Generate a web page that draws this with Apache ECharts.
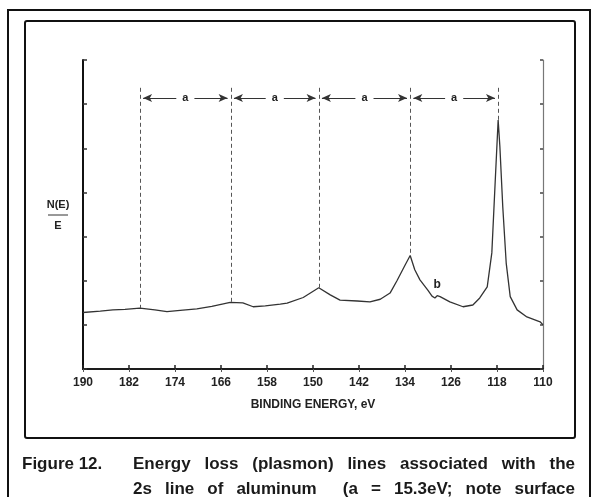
<!DOCTYPE html>
<html>
<head>
<meta charset="utf-8">
<script src="https://cdn.jsdelivr.net/npm/echarts@6/dist/echarts.min.js"></script>
<style>html,body{margin:0;padding:0;background:#fff}#c{width:600px;height:497px}</style>
</head>
<body>
<div id="c"></div>
<script>
// ---- data ----
const bindingEnergy = [190, 187.0, 184.8, 182.7, 180.1, 177.5, 175.4, 173.1, 170.2, 167.6, 164.4, 162.2, 160.4, 158.3, 155.7, 154.5, 151.7, 149.0, 147.0, 145.3, 142.3, 140.1, 138.3, 136.6, 135.4, 134.0, 133.1, 132.3, 131.4, 130.0, 129.3, 128.8, 128.4, 127.9, 126.2, 123.9, 122.2, 121.0, 119.7, 118.9, 118.3, 117.8, 117.5, 117.0, 116.4, 115.7, 114.5, 112.8, 110.5, 110];
const intensity = [1.28, 1.31, 1.34, 1.35, 1.38, 1.34, 1.30, 1.33, 1.36, 1.42, 1.51, 1.50, 1.41, 1.43, 1.47, 1.49, 1.62, 1.84, 1.68, 1.56, 1.54, 1.52, 1.58, 1.72, 2.00, 2.35, 2.57, 2.25, 2.02, 1.78, 1.65, 1.61, 1.66, 1.64, 1.52, 1.41, 1.45, 1.61, 1.86, 2.63, 4.28, 5.64, 5.04, 3.68, 2.40, 1.64, 1.34, 1.18, 1.07, 1.00];
const plasmonLines = [180.1, 164.3, 149.0, 133.1, 117.8];
const plasmonLineEnds = [1.38, 1.51, 1.84, 2.57, 5.64];
const xTicks = [190, 182, 174, 166, 158, 150, 142, 134, 126, 118, 110];
const yTicks = [0, 1, 2, 3, 4, 5, 6, 7];
const lineTop = 6.37;
const arrowLevel = 6.14;
const spacingLabel = 'a';
const surfaceLabel = 'b';
const surfacePoint = [128.4, 1.9];
const caption1 = 'Energy loss (plasmon) lines associated with the';
const caption2 = '2s line of aluminum  (a = 15.3eV; note surface';
const figLabel = 'Figure 12.';

// ---- build ----
const seriesData = bindingEnergy.map((e, i) => [e, intensity[i]]);
const markLines = [];
plasmonLines.forEach((e, i) => {
  markLines.push([{coord: [e, lineTop], symbol: 'none', lineStyle: {type: [4, 3], color: '#555', width: 1}, label: {show: false}},
                  {coord: [e, plasmonLineEnds[i]], symbol: 'none'}]);
});
const markPoints = [{coord: surfacePoint, label: {show: true, formatter: surfaceLabel, fontWeight: 'bold', fontSize: 12, color: '#222', fontFamily: 'Liberation Sans'}}];
for (let i = 0; i < plasmonLines.length - 1; i++) {
  markLines.push([{coord: [plasmonLines[i] - 0.55, arrowLevel], symbol: 'arrow', symbolSize: [6, 9],
                   lineStyle: {type: 'solid', color: '#333', width: 1}, label: {show: false}},
                  {coord: [plasmonLines[i + 1] + 0.55, arrowLevel], symbol: 'arrow', symbolSize: [6, 9]}]);
  markPoints.push({coord: [(plasmonLines[i] + plasmonLines[i + 1]) / 2, arrowLevel],
                   label: {show: true, position: 'inside', formatter: spacingLabel, fontWeight: 'bold', fontSize: 11,
                           color: '#222', backgroundColor: '#fff', padding: [1, 6], fontFamily: 'Liberation Sans'}});
}

const fontAx = {fontFamily: 'Liberation Sans', fontWeight: 'bold', fontSize: 12, color: '#222'};

function justified(words, x0, x1, y, font) {
  const ctx = document.createElement('canvas').getContext('2d');
  ctx.font = font;
  const w = words.map(t => ctx.measureText(t).width);
  const total = w.reduce((a, b) => a + b, 0);
  const gap = (x1 - x0 - total) / (words.length - 1);
  let x = x0;
  const out = [];
  words.forEach((t, i) => {
    if (t) out.push({type: 'text', x: x, y: y, style: {text: t, font: font, fill: '#1a1a1a', verticalAlign: 'middle'}});
    x += w[i] + gap;
  });
  return out;
}
const capFont = 'bold 17px "Liberation Sans"';
const graphics = [
  {type: 'rect', shape: {x: 8, y: 10, width: 582, height: 520}, style: {fill: 'none', stroke: '#111', lineWidth: 2}},
  {type: 'rect', shape: {x: 25, y: 21, width: 550, height: 417, r: 2}, style: {fill: 'none', stroke: '#111', lineWidth: 2}},
  {type: 'text', x: 58, y: 205, style: {text: 'N(E)', font: 'bold 11px "Liberation Sans"', fill: '#222', align: 'center', verticalAlign: 'middle'}},
  {type: 'line', shape: {x1: 48, y1: 215, x2: 68, y2: 215}, style: {stroke: '#333', lineWidth: 1}},
  {type: 'text', x: 58, y: 226, style: {text: 'E', font: 'bold 11px "Liberation Sans"', fill: '#222', align: 'center', verticalAlign: 'middle'}},
  {type: 'text', x: 22, y: 464, style: {text: figLabel, font: capFont, fill: '#1a1a1a', verticalAlign: 'middle'}}
].concat(justified(caption1.split(' '), 133, 575, 464, capFont))
 .concat(justified(caption2.split(' '), 133, 575, 489, capFont));

const chart = echarts.init(document.getElementById('c'), null, {renderer: 'canvas'});
chart.setOption({
  animation: false,
  backgroundColor: '#fff',
  grid: {left: 83, right: 57, top: 60, bottom: 128, show: false},
  xAxis: [{
    type: 'value', inverse: true, min: 110, max: 190, interval: 8, position: 'bottom',
    name: 'BINDING ENERGY, eV', nameLocation: 'middle', nameGap: 30,
    nameTextStyle: Object.assign({}, fontAx, {fontSize: 12}),
    axisLine: {lineStyle: {color: '#111', width: 2}},
    axisTick: {inside: true, length: 4, lineStyle: {color: '#222', width: 1.5}, customValues: xTicks},
    axisLabel: Object.assign({margin: 8, customValues: xTicks}, fontAx),
    splitLine: {show: false}
  }, {
    type: 'value', inverse: true, min: 110, max: 190, interval: 8, position: 'top',
    axisLine: {lineStyle: {color: '#222', width: 1.5}},
    axisTick: {inside: true, length: 3, lineStyle: {color: '#555', width: 1}, customValues: xTicks},
    axisLabel: {show: false},
    splitLine: {show: false}
  }],
  yAxis: [{
    type: 'value', min: 0, max: 7, interval: 1, position: 'left',
    axisLine: {show: true, lineStyle: {color: '#111', width: 2}},
    axisTick: {show: true, inside: true, length: 4, lineStyle: {color: '#333', width: 1.5}, customValues: yTicks},
    axisLabel: {show: false}, splitLine: {show: false}
  }, {
    type: 'value', min: 0, max: 7, interval: 1, position: 'right',
    axisLine: {show: true, lineStyle: {color: '#777', width: 1.2}},
    axisTick: {show: true, inside: true, length: 3, lineStyle: {color: '#444', width: 1.5}, customValues: yTicks},
    axisLabel: {show: false}, splitLine: {show: false}
  }],
  series: [{
    type: 'line', xAxisIndex: 0, yAxisIndex: 0, data: seriesData, showSymbol: false, smooth: false,
    lineStyle: {color: '#333', width: 1.3},
    markLine: {silent: true, symbol: 'none', animation: false, data: markLines},
    markPoint: {silent: true, symbol: 'circle', symbolSize: 0, animation: false, data: markPoints}
  }],
  graphic: graphics
});
</script>
</body>
</html>
